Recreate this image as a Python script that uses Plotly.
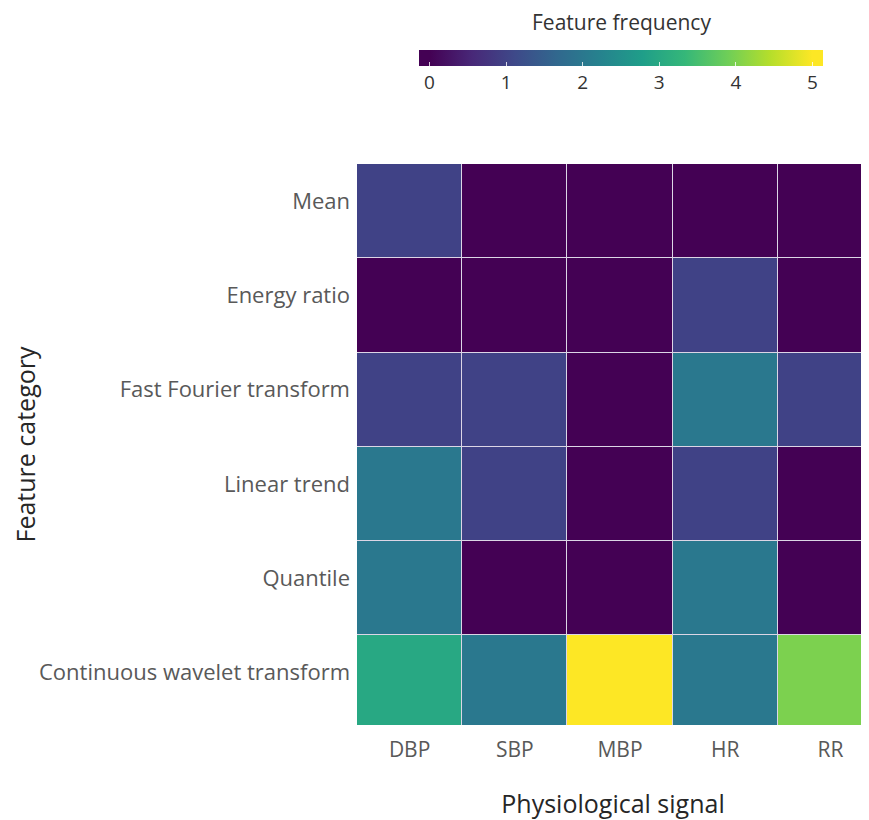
import plotly.graph_objects as go
from plotly.colors import sequential

signals = ["DBP", "SBP", "MBP", "HR", "RR"]
categories = ["Mean", "Energy ratio", "Fast Fourier transform", "Linear trend",
              "Quantile", "Continuous wavelet transform"]
mean_vals = [1, 0, 0, 0, 0]
energy_vals = [0, 0, 0, 1, 0]
fft_vals = [1, 1, 0, 2, 1]
trend_vals = [2, 1, 0, 1, 0]
quantile_vals = [2, 0, 0, 2, 0]
cwt_vals = [3, 2, 5, 2, 4]
cbar_ticks = [0, 1, 2, 3, 4, 5]

z = [mean_vals, energy_vals, fft_vals, trend_vals, quantile_vals, cwt_vals]

# colour range 0..5 with a small flat extension at both ends of the colour bar
vmin, vmax, ext = 0, 5, 0.137
zmin, zmax = vmin - ext, vmax + ext
vir = sequential.Viridis
n = len(vir)
cscale = [[0.0, vir[0]]]
for i, c in enumerate(vir):
    v = vmin + (vmax - vmin) * i / (n - 1)
    cscale.append([(v - zmin) / (zmax - zmin), c])
cscale.append([1.0, vir[-1]])

W, H = 861, 812
L, T, PW, PH = 349, 156, 512, 561
CELL_W = 105.2  # pixel width of one column; the chart is cut at the right edge

font = "Open Sans"
fig = go.Figure(go.Heatmap(
    z=z, x=signals, y=categories,
    colorscale=cscale, zmin=zmin, zmax=zmax,
    xgap=1, ygap=1,
    colorbar=dict(
        orientation="h", x=(613 - L) / PW, xanchor="center",
        y=1 + (T - 42) / PH, yanchor="top",
        ypad=0, xpad=0,
        len=404 / PW, lenmode="fraction", thickness=16,
        outlinewidth=0,
        tickvals=cbar_ticks, ticks="inside", ticklen=4, tickcolor="rgba(255,255,255,0.8)",
        tickfont=dict(family=font, size=19, color="#333333"),
    ),
))

fig.add_annotation(text="Feature frequency", xref="paper", yref="paper",
                   x=(613 - L) / PW, y=1 + (T - 13.5) / PH, xanchor="center", yanchor="middle",
                   borderpad=0,
                   showarrow=False, font=dict(family=font, size=21, color="#333333"))

fig.update_layout(
    width=W, height=H,
    margin=dict(l=L, r=W - L - PW, t=T, b=H - T - PH, pad=0),
    paper_bgcolor="white", plot_bgcolor="#dcd6e6",
    xaxis=dict(showgrid=False, zeroline=False, ticks="", ticklabelstandoff=10, automargin=False,
               range=[-0.5, -0.5 + PW / CELL_W],
               tickfont=dict(family=font, size=21, color="#595959"),
               title=dict(text="Physiological signal", standoff=36,
                          font=dict(family=font, size=25, color="#262626"))),
    yaxis=dict(showgrid=False, zeroline=False, ticks="", automargin=False,
               range=[5.45, -0.5], ticklabelstandoff=6, ticklabelshift=10,
               tickfont=dict(family=font, size=22, color="#595959"),
               title=dict(text="Feature category", standoff=12,
                          font=dict(family=font, size=25, color="#262626"))),
)
fig.write_html("out.html")
